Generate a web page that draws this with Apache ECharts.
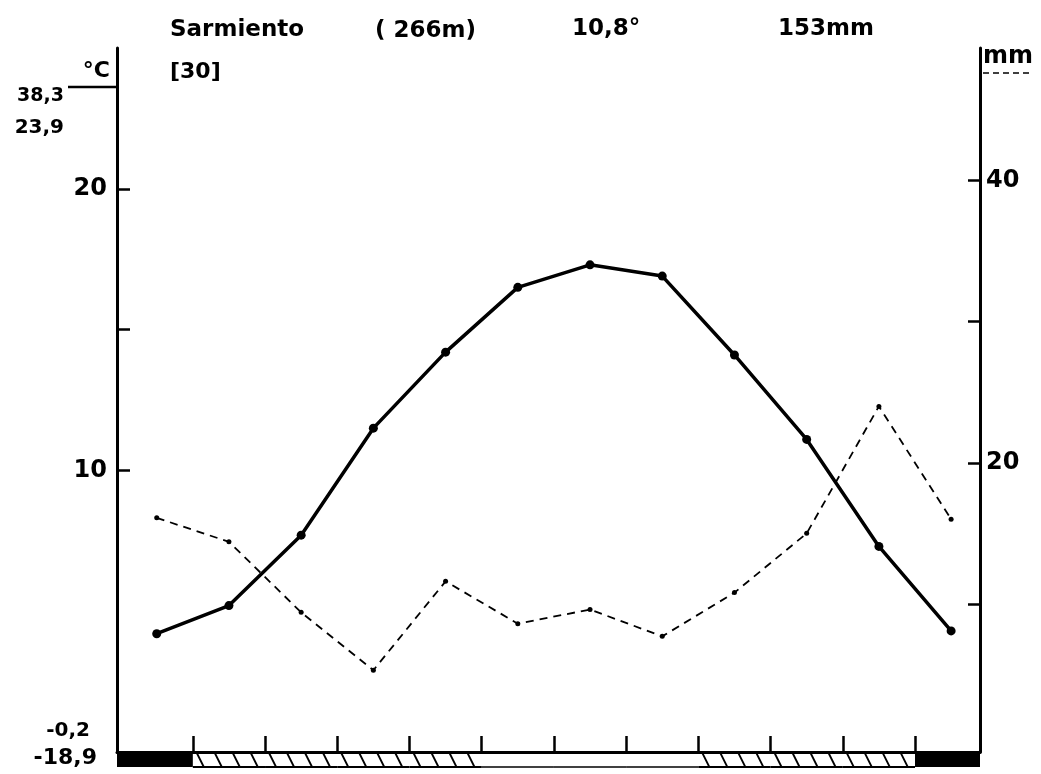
<!DOCTYPE html>
<html><head><meta charset="utf-8">
<script src="https://cdn.jsdelivr.net/npm/echarts@6/dist/echarts.min.js"></script>
<style>html,body{margin:0;padding:0;background:#fff}#c{width:1041px;height:774px}</style>
</head><body><div id="c"></div>
<script>
// ---- data ----
const months = [1,2,3,4,5,6,7,8,9,10,11,12];
const temperature = [4.2,5.2,7.7,11.5,14.2,16.5,17.3,16.9,14.1,11.1,7.3,4.3];      // °C
const precipitation = [16.1,14.4,9.4,5.3,11.6,8.6,9.6,7.7,10.8,15.0,24.0,16.0];   // mm
const frost = [2,1,1,1,1,0,0,0,1,1,1,2];   // 2 = mean min < 0, 1 = abs min < 0, 0 = none
const monthBounds = [1.5,2.5,3.5,4.5,5.5,6.5,7.5,8.5,9.5,10.5,11.5];
const tempTicks = [10,15,20];
const tempLabels = [10,20];
const precTicks = [10,20,30,40];
const precLabels = [20,40];
const station = 'Sarmiento', altitude = '( 266m)', meanTemp = '10,8°', annualPrec = '153mm', years = '[30]';
const absMax = '38,3', meanMaxWarm = '23,9', meanMinCold = '-0,2', absMin = '-18,9';
const unitT = '°C', unitP = 'mm';

const X_MIN = 0.45, X_MAX = 12.4;
const FONT = '"DejaVu Sans"';

const chart = echarts.init(document.getElementById('c'), null, {renderer:'canvas'});
const lbl = {color:'#000', fontFamily:FONT, fontSize:24, fontWeight:'bold'};

function txt(text, x, y, size, align) {
  return {type:'text', x:x, y:y, style:{text:text, font:'bold '+size+'px '+FONT, fill:'#000', align:align||'left', verticalAlign:'middle'}};
}

chart.setOption({
  animation:false,
  backgroundColor:'#fff',
  grid:[
    {left:117, right:61, top:48, bottom:22},
    {left:117, right:61, top:48, bottom:29}
  ],
  xAxis:[
    {gridIndex:0, type:'value', min:X_MIN, max:X_MAX,
     axisLine:{show:true, onZero:false, lineStyle:{color:'#000', width:3}},
     axisTick:{show:true, inside:true, length:16, customValues:monthBounds, lineStyle:{color:'#000', width:2.5}},
     axisLabel:{show:false}, splitLine:{show:false}},
    {gridIndex:1, type:'value', min:X_MIN, max:X_MAX, show:false}
  ],
  yAxis:[
    {gridIndex:0, type:'value', min:0, max:25, position:'left',
     axisLine:{show:true, lineStyle:{color:'#000', width:3}},
     axisTick:{show:true, inside:true, length:13, customValues:tempTicks, lineStyle:{color:'#000', width:2.5}},
     axisLabel:Object.assign({customValues:tempLabels, margin:10}, lbl),
     splitLine:{show:false}},
    {gridIndex:0, type:'value', min:0, max:25, position:'right',
     axisLine:{show:true, lineStyle:{color:'#000', width:3}},
     axisTick:{show:false}, axisLabel:{show:false}, splitLine:{show:false}},
    {gridIndex:1, type:'value', min:0, max:49.4, position:'right',
     axisLine:{show:false},
     axisTick:{show:true, inside:true, length:12, customValues:precTicks, lineStyle:{color:'#000', width:2.5}},
     axisLabel:Object.assign({customValues:precLabels, margin:6}, lbl),
     splitLine:{show:false}}
  ],
  series:[
    {type:'custom', xAxisIndex:0, yAxisIndex:0, clip:false, z:5,
     data:frost.map((c,i)=>[months[i], c]),
     renderItem:function(params, api){
       const m = api.value(0), code = api.value(1);
       const x0v = m===months[0] ? X_MIN : m-0.5;
       const x1v = m===months[months.length-1] ? X_MAX : m+0.5;
       const p0 = api.coord([x0v,0]), p1 = api.coord([x1v,0]);
       const top = p0[1], h = 15, bot = top+h;
       const ch = [];
       if (code===2) {
         ch.push({type:'rect', shape:{x:p0[0], y:top, width:p1[0]-p0[0], height:h}, style:{fill:'#000'}});
       } else {
         ch.push({type:'line', shape:{x1:p0[0], y1:bot, x2:p1[0], y2:bot}, style:{stroke:'#000', lineWidth:code===1?2:1.5}});
         if (code===1) {
           for (let x=p0[0]+4; x+7<=p1[0]; x+=18) {
             ch.push({type:'line', shape:{x1:x, y1:top+1, x2:x+7, y2:bot}, style:{stroke:'#000', lineWidth:1.8}});
           }
         }
       }
       return {type:'group', children:ch};
     }},
    {type:'line', name:'T', xAxisIndex:0, yAxisIndex:0, z:4,
     data:months.map((m,i)=>[m, temperature[i]]),
     symbol:'circle', symbolSize:9, showSymbol:true,
     lineStyle:{color:'#000', width:3.5}, itemStyle:{color:'#000'}},
    {type:'line', name:'P', xAxisIndex:1, yAxisIndex:2, z:3,
     data:months.map((m,i)=>[m, precipitation[i]]),
     symbol:'circle', symbolSize:5, showSymbol:true,
     lineStyle:{color:'#000', width:1.8, type:[8,6]}, itemStyle:{color:'#000'}}
  ],
  graphic:[
    txt(station, 170, 30, 23),
    txt(altitude, 375, 31, 23),
    txt(meanTemp, 572, 29, 23),
    txt(annualPrec, 778, 29, 23),
    txt(years, 170, 72, 22),
    txt(unitT, 110, 71, 22, 'right'),
    {type:'line', shape:{x1:68, y1:87, x2:117, y2:87}, style:{stroke:'#000', lineWidth:2.5}},
    txt(absMax, 64, 96, 19, 'right'),
    txt(meanMaxWarm, 64, 128, 20, 'right'),
    txt(meanMinCold, 90, 731, 20, 'right'),
    txt(absMin, 97, 758, 22, 'right'),
    txt(unitP, 983, 57, 24, 'left'),
    {type:'line', shape:{x1:983, y1:73, x2:1033, y2:73}, style:{stroke:'#000', lineWidth:1.5, lineDash:[6,4]}}
  ]
});
</script></body></html>
